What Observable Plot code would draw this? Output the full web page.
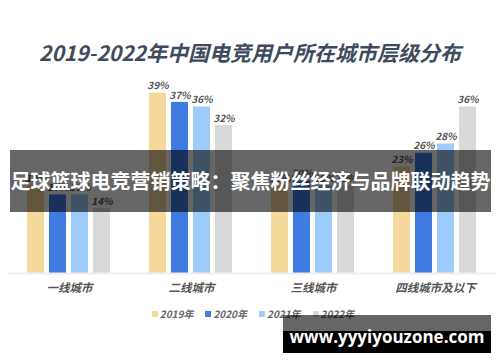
<!DOCTYPE html>
<html>
<head>
<meta charset="utf-8">
<script src="https://cdn.jsdelivr.net/npm/d3@7"></script>
<script src="https://cdn.jsdelivr.net/npm/@observablehq/plot@0.6"></script>
<style>
  html, body { margin: 0; padding: 0; background: #fff; }
  #wrap { position: relative; width: 500px; height: 362px; overflow: hidden; font-family: "Noto Sans CJK SC", "Noto Sans", sans-serif; }
  #title { position: absolute; left: 0; width: 500px; top: 37px; text-align: center; font-size: 21px; font-weight: 700; font-style: italic; color: #3e4b5d; line-height: 30px; letter-spacing: 0px; }
  #chart { position: absolute; left: 0; top: 70px; }
  #legend { position: absolute; left: 0; width: 500px; top: 306px; text-align: center; font-size: 10px; font-weight: 700; font-style: italic; color: #666; line-height: 16px; padding-left: 6px; box-sizing: border-box; }
  #legend span.item { display: inline-block; margin: 0 6px; }
  #legend span.sw { display: inline-block; width: 6px; height: 6px; margin-right: 2px; vertical-align: 1px; }
  #banner { position: absolute; left: 10px; top: 150px; width: 481px; height: 62px; background: rgba(0,0,0,0.6); color: #fff; font-size: 20px; font-weight: 700; line-height: 62px; text-align: center; white-space: nowrap; letter-spacing: 0px; }
  #wm { position: absolute; left: 283px; top: 315px; width: 208px; height: 38px; background: linear-gradient(to bottom, rgba(0,0,0,0.6) 0, rgba(0,0,0,0.6) 16px, #000 16px, #000 100%); color: #fff; font-family: "Open Sans", "DejaVu Sans", sans-serif; font-weight: 700; font-size: 17px; line-height: 44px; text-align: center; white-space: nowrap; }
</style>
</head>
<body>
<div id="wrap">
  <div id="title"></div>
  <div id="chart"></div>
  <div id="legend"></div>
  <div id="banner"></div>
  <div id="wm"></div>
</div>
<script>
const titleText = "2019-2022年中国电竞用户所在城市层级分布";
const bannerText = "足球篮球电竞营销策略：聚焦粉丝经济与品牌联动趋势";
const watermarkText = "www.yyyiyouzone.com";
const categories = ["一线城市", "二线城市", "三线城市", "四线城市及以下"];
const years = ["2019年", "2020年", "2021年", "2022年"];
const colors = ["#f5d89c", "#3f7be0", "#9dcbfc", "#d9d9d9"];
const v2019 = [19, 39, 19, 23];
const v2020 = [17, 37, 20, 26];
const v2021 = [17, 36, 19, 28];
const v2022 = [14, 32, 19, 36];

const series = [v2019, v2020, v2021, v2022];
const data = [];
categories.forEach((c, i) => {
  years.forEach((y, j) => {
    data.push({city: c, year: y, value: series[j][i]});
  });
});

document.getElementById("title").textContent = titleText;
document.getElementById("banner").textContent = bannerText;
document.getElementById("wm").textContent = watermarkText;

const legend = document.getElementById("legend");
years.forEach((y, j) => {
  const item = document.createElement("span");
  item.className = "item";
  const sw = document.createElement("span");
  sw.className = "sw";
  sw.style.background = colors[j];
  item.appendChild(sw);
  item.appendChild(document.createTextNode(y));
  legend.appendChild(item);
});

const chart = Plot.plot({
  width: 500,
  height: 230,
  marginLeft: 8,
  marginRight: 4,
  marginTop: 18,
  marginBottom: 27,
  style: {fontFamily: "'Noto Sans CJK SC', sans-serif", background: "transparent"},
  fx: {domain: categories, padding: 0, axis: "bottom", label: null, tickSize: 0, tickPadding: 10},
  x: {domain: years, axis: null, paddingInner: 0.22, paddingOuter: 0.86},
  y: {domain: [0, 40], axis: null},
  color: {domain: years, range: colors},
  marks: [
    Plot.barY(data, {fx: "city", x: "year", y: "value", fill: "year"}),
    Plot.ruleY([0], {stroke: "#eeeeee", strokeWidth: 2}),
    Plot.text(data, {fx: "city", x: "year", y: "value", text: d => d.value + "%", dy: -7, fill: "#555", fontSize: 10, fontWeight: 700, fontStyle: "italic"})
  ]
});
chart.querySelectorAll("g[aria-label='fx-axis tick label'] text, g[aria-label='fx-axis'] text").forEach(t => {
  t.setAttribute("font-weight", "700");
  t.setAttribute("font-style", "italic");
  t.setAttribute("fill", "#555");
  t.setAttribute("font-size", "11.5");
});
document.getElementById("chart").appendChild(chart);
</script>
</body>
</html>
